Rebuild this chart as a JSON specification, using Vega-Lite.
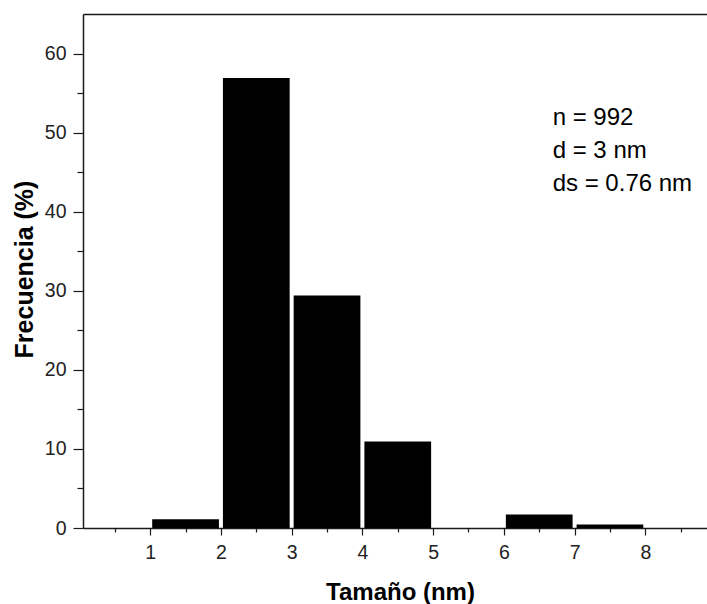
{
  "$schema": "https://vega.github.io/schema/vega-lite/v6.json",
  "autosize": {"type": "none"},
  "width": 624,
  "height": 514,
  "padding": {"left": 83, "top": 14, "right": 0, "bottom": 76},
  "background": "white",
  "config": {
    "view": {"stroke": null},
    "axis": {
      "domainColor": "#1a1a1a",
      "domainWidth": 1.5,
      "tickColor": "#1a1a1a",
      "tickWidth": 1.2,
      "grid": false,
      "labelFont": "Liberation Sans",
      "labelColor": "#222222",
      "titleFont": "Liberation Sans",
      "titleFontWeight": "bold",
      "titleColor": "#000000"
    }
  },
  "datasets": {
    "bins": [
      {"bin_start": 1, "bin_end": 2, "frecuencia": 1.1},
      {"bin_start": 2, "bin_end": 3, "frecuencia": 56.9},
      {"bin_start": 3, "bin_end": 4, "frecuencia": 29.4},
      {"bin_start": 4, "bin_end": 5, "frecuencia": 10.95},
      {"bin_start": 5, "bin_end": 6, "frecuencia": 0},
      {"bin_start": 6, "bin_end": 7, "frecuencia": 1.72},
      {"bin_start": 7, "bin_end": 8, "frecuencia": 0.45}
    ],
    "notes": [
      {"label": "n = 992", "x": 6.69, "y": 51.9},
      {"label": "d = 3 nm", "x": 6.69, "y": 47.7},
      {"label": "ds = 0.76 nm", "x": 6.69, "y": 43.5}
    ]
  },
  "layer": [
    {
      "data": {"name": "bins"},
      "mark": {"type": "bar", "color": "black", "xOffset": 2, "x2Offset": -2},
      "encoding": {
        "x": {
          "field": "bin_start", "type": "quantitative",
          "scale": {"domain": [0.05, 8.872], "nice": false, "zero": false},
          "axis": {
            "orient": "bottom",
            "values": [1, 2, 3, 4, 5, 6, 7, 8],
            "format": "d",
            "tickSize": 7,
            "labelFontSize": 19.5,
            "labelPadding": 8,
            "title": "Tamaño (nm)",
            "titleFontSize": 24,
            "titleBaseline": "alphabetic",
            "titleX": 317,
            "titleY": 71
          }
        },
        "x2": {"field": "bin_end"},
        "y": {
          "field": "frecuencia", "type": "quantitative",
          "scale": {"domain": [0, 65], "nice": false},
          "axis": {
            "orient": "left",
            "values": [0, 10, 20, 30, 40, 50, 60],
            "tickSize": 10,
            "labelFontSize": 19.5,
            "labelPadding": 7,
            "title": "Frecuencia (%)",
            "titleFontSize": 25,
            "titleBaseline": "alphabetic",
            "titleX": -51,
            "titleY": 255
          }
        },
        "y2": {"datum": 0}
      }
    },
    {
      "data": {"name": "bins"},
      "mark": {"type": "point", "opacity": 0},
      "encoding": {
        "x": {
          "field": "bin_start", "type": "quantitative",
          "scale": {"domain": [0.05, 8.872], "nice": false, "zero": false},
          "axis": {
            "orient": "bottom",
            "values": [0.5, 1.5, 2.5, 3.5, 4.5, 5.5, 6.5, 7.5, 8.5],
            "labels": false,
            "domain": false,
            "tickSize": 4,
            "title": null
          }
        },
        "y": {
          "field": "frecuencia", "type": "quantitative",
          "scale": {"domain": [0, 65], "nice": false},
          "axis": {
            "orient": "left",
            "values": [5, 15, 25, 35, 45, 55],
            "labels": false,
            "domain": false,
            "tickSize": 6,
            "title": null
          }
        }
      }
    },
    {
      "data": {"name": "notes"},
      "mark": {"type": "text", "align": "left", "baseline": "middle", "font": "Liberation Sans", "fontSize": 24, "color": "black"},
      "encoding": {
        "x": {
          "field": "x", "type": "quantitative",
          "scale": {"domain": [0.05, 8.872], "nice": false, "zero": false},
          "axis": {"orient": "top", "ticks": false, "labels": false, "domain": true, "title": null}
        },
        "y": {"field": "y", "type": "quantitative", "scale": {"domain": [0, 65], "nice": false}, "axis": null},
        "text": {"field": "label"}
      }
    }
  ],
  "resolve": {"axis": {"x": "independent", "y": "independent"}}
}
